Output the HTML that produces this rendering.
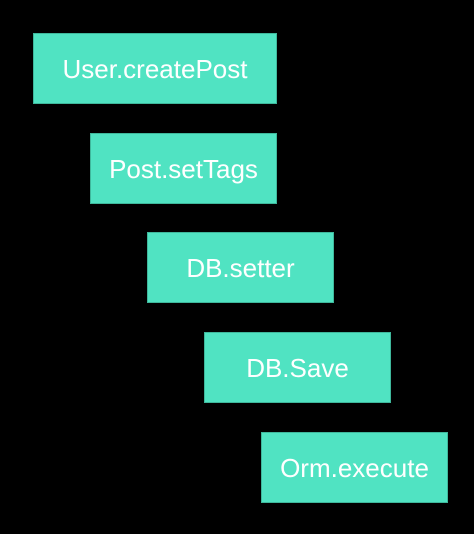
<!DOCTYPE html>
<html><head><style>
html,body{margin:0;padding:0;background:#000;width:474px;height:534px;overflow:hidden}
.b{position:absolute;background:#50E3C2;border:1px solid #3fb89c;box-sizing:border-box;display:flex;align-items:center;justify-content:center;color:#fff;font-family:"Liberation Sans",sans-serif;font-size:26px;padding-top:2px}
</style></head><body>
<div class="b" style="left:33px;top:33px;width:244px;height:71px">User.createPost</div>
<div class="b" style="left:90px;top:133px;width:187px;height:71px">Post.setTags</div>
<div class="b" style="left:147px;top:232px;width:187px;height:71px">DB.setter</div>
<div class="b" style="left:204px;top:332px;width:187px;height:71px">DB.Save</div>
<div class="b" style="left:261px;top:432px;width:187px;height:71px">Orm.execute</div>
</body></html>
